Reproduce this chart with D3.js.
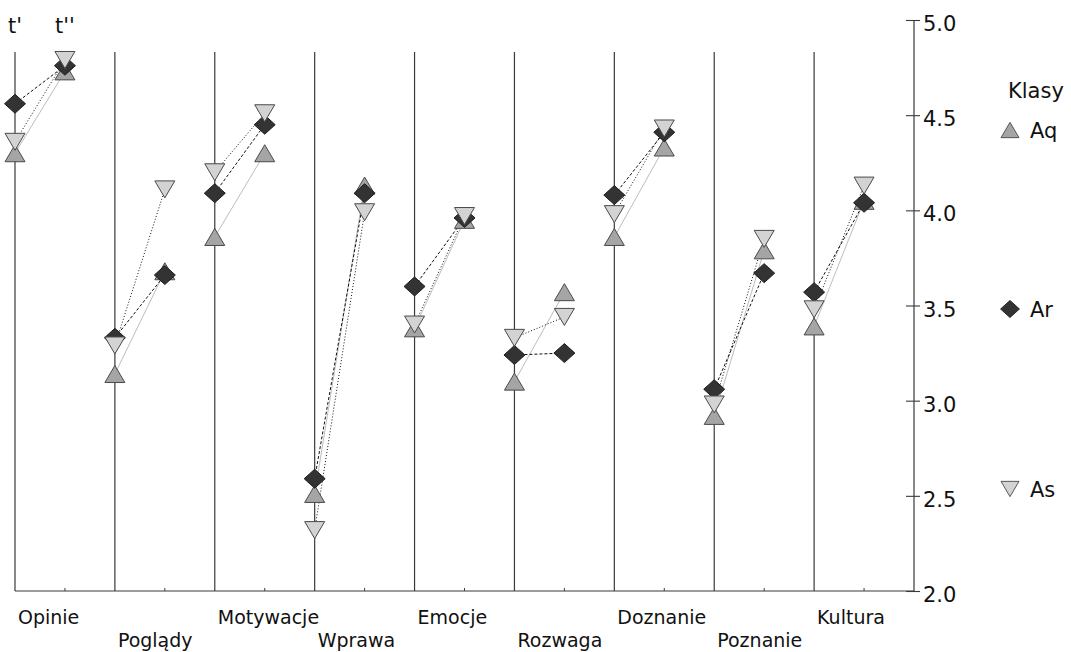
<!DOCTYPE html>
<html>
<head>
<meta charset="utf-8">
<script src="https://cdn.jsdelivr.net/npm/d3@7"></script>
<style>
  html, body { margin: 0; padding: 0; background: #fff; }
  svg { display: block; font-family: "DejaVu Sans", Verdana, sans-serif; }
</style>
</head>
<body>
<svg id="chart" width="1071" height="652"></svg>
<script>
// Categories (pairs of measurements t' / t'')
const categories = ["Opinie", "Poglądy", "Motywacje", "Wprawa", "Emocje", "Rozwaga", "Doznanie", "Poznanie", "Kultura"];
const timeLabels = ["t'", "t''"];

// Mean scores per class, first (t') and second (t'') measurement
const aqFirst  = [4.30, 3.14, 3.86, 2.51, 3.38, 3.10, 3.86, 2.92, 3.39];
const aqSecond = [4.73, 3.68, 4.30, 4.13, 3.95, 3.57, 4.33, 3.79, 4.05];
const arFirst  = [4.56, 3.33, 4.09, 2.59, 3.60, 3.24, 4.08, 3.06, 3.57];
const arSecond = [4.76, 3.66, 4.45, 4.09, 3.96, 3.25, 4.41, 3.67, 4.04];
const asFirst  = [4.36, 3.29, 4.20, 2.32, 3.40, 3.33, 3.98, 2.98, 3.48];
const asSecond = [4.79, 4.11, 4.51, 3.99, 3.97, 3.44, 4.43, 3.85, 4.13];

const yTicks = [2.0, 2.5, 3.0, 3.5, 4.0, 4.5, 5.0];
const legendTitle = "Klasy";

const series = [
  { name: "Aq", first: aqFirst, second: aqSecond, shape: "up",
    fill: "#a5a5a5", stroke: "#4a4a4a", line: "#bdbdbd", dash: null },
  { name: "Ar", first: arFirst, second: arSecond, shape: "diamond",
    fill: "#333333", stroke: "#1e1e1e", line: "#111", dash: "3,2" },
  { name: "As", first: asFirst, second: asSecond, shape: "down",
    fill: "#d3d3d3", stroke: "#4a4a4a", line: "#111", dash: "1,2" }
];

const svg = d3.select("#chart");
const FONT = 19;
const FONT_AXIS = 21;

// Horizontal slots: each category occupies two slots (t', t''); slot 18 is the value axis
const x = d3.scaleLinear().domain([0, 18]).range([15, 914]);
const y = d3.scaleLinear().domain([2, 5]).range([591, 20]);

const axisX = x(18);
const baseY = y(2);
const lineTop = 52;

// Shapes centred on the data point
function markerPath(shape, cx, cy) {
  const w = 10, h = 8.5;
  if (shape === "up") return `M${cx - w},${cy + h}L${cx},${cy - h}L${cx + w},${cy + h}Z`;
  if (shape === "down") return `M${cx - w},${cy - h}L${cx},${cy + h}L${cx + w},${cy - h}Z`;
  const dw = 10.5, dh = 9.5;
  return `M${cx},${cy - dh}L${cx + dw},${cy}L${cx},${cy + dh}L${cx - dw},${cy}Z`;
}

// Vertical guide lines at each t' slot
const grid = svg.append("g");
categories.forEach((c, i) => {
  grid.append("line")
    .attr("x1", x(2 * i)).attr("x2", x(2 * i))
    .attr("y1", lineTop).attr("y2", baseY)
    .attr("stroke", "#3a3a3a").attr("stroke-width", 1.2);
});

// Baseline with small ticks at the t'' slots
grid.append("line")
  .attr("x1", x(0)).attr("x2", axisX)
  .attr("y1", baseY).attr("y2", baseY)
  .attr("stroke", "#3a3a3a").attr("stroke-width", 1.2);
categories.forEach((c, i) => {
  grid.append("line")
    .attr("x1", x(2 * i + 1)).attr("x2", x(2 * i + 1))
    .attr("y1", baseY).attr("y2", baseY - 3)
    .attr("stroke", "#3a3a3a").attr("stroke-width", 1);
});

// Value axis on the right
const yAxis = d3.axisRight(y).tickValues(yTicks).tickFormat(d3.format(".1f"))
  .tickSizeInner(6).tickSizeOuter(0).tickPadding(3);
const ax = svg.append("g").attr("transform", `translate(${axisX},0)`).call(yAxis);
ax.select(".domain").attr("stroke", "#3a3a3a").attr("stroke-width", 1.2)
  .attr("d", `M0,${y(5)}V${y(2)}`);
ax.selectAll(".tick line").attr("x1", -8).attr("stroke", "#3a3a3a").attr("stroke-width", 1.1);
ax.selectAll(".tick text").attr("font-size", FONT_AXIS).attr("fill", "#111")
  .attr("dy", "0.5em")
  .attr("font-family", "DejaVu Sans, Verdana, sans-serif");

// t' and t'' headers above the first pair
timeLabels.forEach((t, k) => {
  svg.append("text").attr("x", x(k)).attr("y", 33)
    .attr("text-anchor", "middle").attr("font-size", FONT_AXIS).attr("fill", "#111").text(t);
});

// Category labels, staggered on two rows
categories.forEach((c, i) => {
  svg.append("text")
    .attr("x", x(2 * i) + 3)
    .attr("y", i % 2 === 0 ? 624 : 647)
    .attr("font-size", FONT).attr("fill", "#111").text(c);
});

// Connecting lines t' -> t''
const links = svg.append("g");
series.forEach(s => {
  categories.forEach((c, i) => {
    links.append("line")
      .attr("x1", x(2 * i)).attr("y1", y(s.first[i]))
      .attr("x2", x(2 * i + 1)).attr("y2", y(s.second[i]))
      .attr("stroke", s.line).attr("stroke-width", 1)
      .attr("stroke-dasharray", s.dash);
  });
});

// Markers
const marks = svg.append("g");
series.forEach(s => {
  categories.forEach((c, i) => {
    [[2 * i, s.first[i]], [2 * i + 1, s.second[i]]].forEach(([slot, v]) => {
      marks.append("path")
        .attr("d", markerPath(s.shape, x(slot), y(v)))
        .attr("fill", s.fill).attr("stroke", s.stroke).attr("stroke-width", 1);
    });
  });
});

// Legend
const lg = svg.append("g");
lg.append("text").attr("x", 1008).attr("y", 98).attr("font-size", FONT_AXIS).attr("fill", "#111").text(legendTitle);
const legendY = [130, 309, 489];
series.forEach((s, k) => {
  lg.append("path").attr("d", markerPath(s.shape, 1010, legendY[k]))
    .attr("fill", s.fill).attr("stroke", s.stroke).attr("stroke-width", 1)
    .attr("transform", `translate(1010,${legendY[k]}) scale(0.9) translate(-1010,${-legendY[k]})`);
  lg.append("text").attr("x", 1030).attr("y", legendY[k] + 8)
    .attr("font-size", FONT_AXIS).attr("fill", "#111").text(s.name);
});
</script>
</body>
</html>
